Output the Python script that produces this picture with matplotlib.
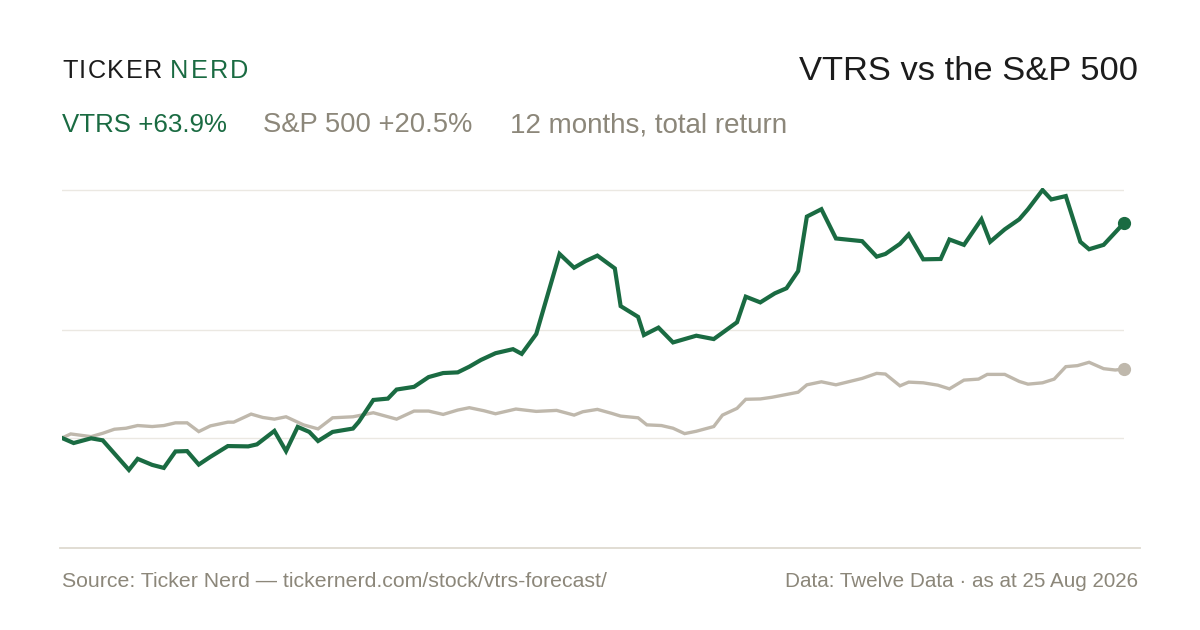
import matplotlib
matplotlib.use("Agg")
import matplotlib.pyplot as plt
from matplotlib.lines import Line2D

# ---- data (days since start, % total return) ----
vtrs_days = [0, 4, 10, 14, 23, 26, 31, 35, 39, 43, 47, 51, 57, 64, 67, 73, 77, 81, 85, 88,
             93, 100, 102, 107, 112, 115, 121, 126, 131, 136, 140, 144, 149, 155, 158, 163,
             171, 176, 180, 184, 190, 192, 198, 200, 205, 210, 218, 224, 232, 235, 240, 245,
             249, 253, 256, 261, 266, 275, 280, 283, 288, 291, 296, 302, 305, 310, 316, 319,
             324, 329, 332, 337, 340, 345, 350, 353, 358, 365]
vtrs_ret = [0.0, -1.5, -0.1, -0.7, -9.5, -6.2, -8.0, -8.9, -4.0, -3.9, -7.9, -5.6, -2.4, -2.5,
            -1.9, 2.1, -3.9, 3.3, 1.8, -0.9, 1.8, 2.8, 4.8, 11.3, 11.7, 14.4, 15.2, 18.1, 19.3,
            19.5, 21.2, 23.2, 25.2, 26.4, 25.0, 30.9, 54.7, 50.6, 52.6, 54.2, 50.4, 39.2, 36.0,
            30.6, 32.8, 28.4, 30.4, 29.4, 34.4, 42.0, 40.3, 43.0, 44.5, 49.6, 65.8, 68.0, 59.3,
            58.5, 53.9, 54.7, 57.7, 60.5, 53.1, 53.2, 59.0, 57.4, 65.0, 58.3, 62.0, 65.0, 68.0,
            73.7, 70.9, 71.9, 58.3, 56.1, 57.4, 63.9]

spx_days = [0, 3, 10, 14, 18, 22, 26, 31, 35, 39, 43, 47, 51, 57, 59, 65, 69, 73, 77, 83, 88,
            93, 100, 107, 115, 121, 126, 131, 136, 140, 145, 149, 156, 163, 170, 176, 179, 184,
            189, 192, 198, 201, 206, 210, 214, 218, 224, 227, 232, 235, 240, 244, 253, 256, 261,
            266, 275, 280, 283, 288, 291, 296, 301, 305, 310, 315, 318, 324, 329, 332, 337, 341,
            345, 349, 353, 358, 362, 365]
spx_ret = [0.0, 1.2, 0.4, 1.4, 2.6, 2.9, 3.7, 3.4, 3.7, 4.5, 4.5, 1.9, 3.6, 4.7, 4.7, 7.1, 6.1,
           5.6, 6.3, 3.9, 2.7, 6.0, 6.3, 7.5, 5.6, 8.0, 8.0, 7.0, 8.3, 9.0, 8.1, 7.2, 8.6, 7.9,
           8.2, 6.8, 7.8, 8.5, 7.3, 6.5, 6.0, 3.9, 3.7, 2.9, 1.3, 2.0, 3.4, 6.8, 8.8, 11.5, 11.6,
           12.1, 13.6, 15.8, 16.7, 15.8, 17.7, 19.2, 19.0, 15.5, 16.6, 16.4, 15.7, 14.6, 17.2,
           17.5, 18.9, 18.9, 16.8, 16.0, 16.4, 17.5, 21.2, 21.5, 22.5, 20.6, 20.2, 20.5]

ticker = "VTRS"
bench = "S&P 500"
period_note = "12 months, total return"
source_text = "Source: Ticker Nerd \u2014 tickernerd.com/stock/vtrs-forecast/"
data_text = "Data: Twelve Data \u00b7 as at 25 Aug 2026"
logo_a = "TICKER"
logo_b = "NERD"

# ---- style ----
GREEN = "#1a6b42"
SPX = "#bfb8ac"
GRAYTXT = "#8c877a"
GRID = "#ebe8e2"
RULE = "#dedad0"
DARK = "#1c1c1c"
FONT = "Liberation Sans"

W, H = 1200, 630
fig = plt.figure(figsize=(W / 100, H / 100), dpi=100)
fig.patch.set_facecolor("white")
renderer = fig.canvas.get_renderer()


def fx(px):
    return px / W


def fy(py):
    return 1 - py / H


def tracked(text, x0, x1, ybase, **kw):
    """Place characters one by one so the word spans x0..x1 pixels."""
    widths = []
    for ch in text:
        t = fig.text(0, 0, ch, **kw)
        widths.append(t.get_window_extent(renderer).width)
        t.remove()
    gap = ((x1 - x0) - sum(widths)) / (len(text) - 1)
    x = x0
    for ch, w in zip(text, widths):
        fig.text(fx(x), fy(ybase), ch, va="baseline", **kw)
        x += w + gap


ax = fig.add_axes([fx(62), fy(548), fx(1124) - fx(62), fy(188) - fy(548)])
ax.set_xlim(0, 365)
ax.set_ylim(-32.7, 74.3)
ax.axis("off")

vmax = max(vtrs_ret)
vmin = min(vtrs_ret)
for g in [0.0, (vmax + vmin) / 2, vmax]:
    ax.axhline(g, color=GRID, lw=1.0, zorder=0)

ax.plot(spx_days, spx_ret, color=SPX, lw=2.4, solid_joinstyle="miter", zorder=2)
ax.plot(vtrs_days, vtrs_ret, color=GREEN, lw=3.0, solid_joinstyle="miter", zorder=3)
ax.plot([spx_days[-1]], [spx_ret[-1]], "o", color=SPX, ms=8.5, zorder=4, clip_on=False)
ax.plot([vtrs_days[-1]], [vtrs_ret[-1]], "o", color=GREEN, ms=8.5, zorder=5, clip_on=False)

# bottom rule
fig.add_artist(Line2D([fx(60), fx(1140)], [fy(548), fy(548)], color=RULE, lw=1.3))

# logo
tracked(logo_a, 62, 162, 78.5, color=DARK, fontsize=18.2, family=FONT)
tracked(logo_b, 170, 248, 78.5, color=GREEN, fontsize=18.2, family=FONT)

# title
fig.text(fx(1138), fy(80), f"{ticker} vs the {bench}", color=DARK, fontsize=24.8,
         family=FONT, ha="right", va="baseline")

# subtitle
v_end = vtrs_ret[-1]
s_end = spx_ret[-1]
fig.text(fx(62), fy(132), f"{ticker} {v_end:+.1f}%", color=GREEN, fontsize=18.6,
         family=FONT, va="baseline")
fig.text(fx(263), fy(132), f"{bench} {s_end:+.1f}%", color=GRAYTXT, fontsize=19.7,
         family=FONT, va="baseline")
fig.text(fx(510), fy(132), period_note, color=GRAYTXT, fontsize=20.0, family=FONT,
         va="baseline")

# footer
fig.text(fx(62), fy(587), source_text, color=GRAYTXT, fontsize=15.3, family=FONT,
         va="baseline")
fig.text(fx(1138), fy(587), data_text, color=GRAYTXT, fontsize=14.9, family=FONT,
         ha="right", va="baseline")

fig.savefig("out.png", dpi=100, facecolor="white")
